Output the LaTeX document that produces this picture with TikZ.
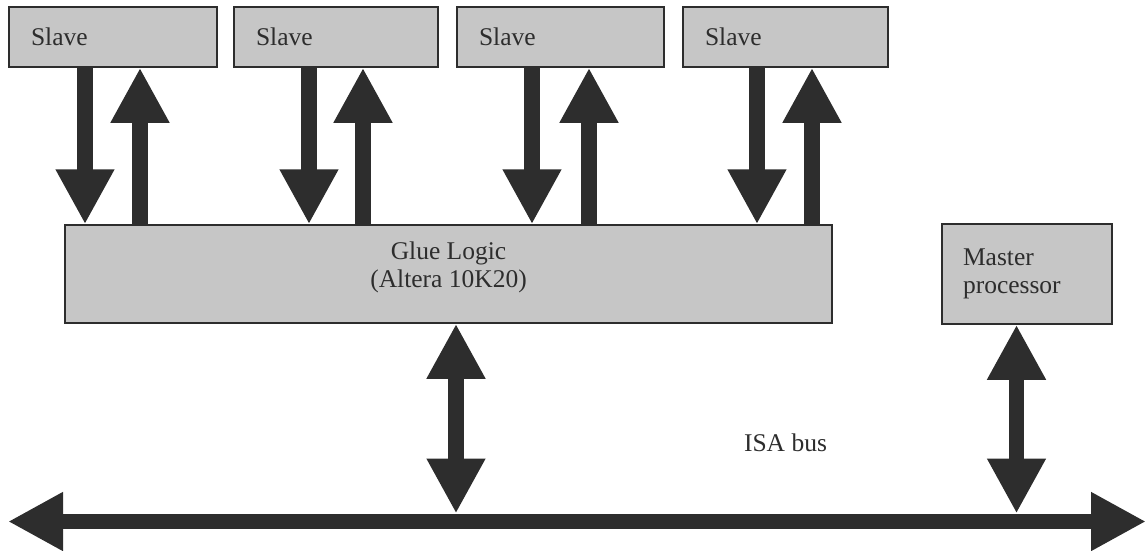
\documentclass[tikz,border=0pt]{standalone}
\usepackage{fontspec}
\setmainfont{Liberation Serif}
\usetikzlibrary{arrows.meta}
\definecolor{boxfill}{RGB}{198,198,198}
\definecolor{ink}{RGB}{45,45,45}
\begin{document}
\begin{tikzpicture}[x=1pt,y=-1pt,
  box/.style={draw=ink, line width=1.5pt, fill=boxfill, inner sep=0pt,
    font=\fontsize{25.5}{28}\selectfont, text=ink},
  slavebox/.style={box, minimum height=60pt, inner xsep=22pt, align=left, text width=#1},
  onearrow/.style={draw=ink, line width=15.5pt, -{Triangle[length=55pt,width=55pt]}},
  twoarrow/.style={draw=ink, line width=15.5pt, {Triangle[length=55pt,width=55pt]}-{Triangle[length=55pt,width=55pt]}},
  lbl/.style={font=\fontsize{25.5}{28}\selectfont, text=ink, inner sep=0pt}]
\useasboundingbox (0,0) rectangle (1146,550);

% boxes
\node[slavebox=164pt] (s1) at (113,37) {Slave};
\node[slavebox=160pt] (s2) at (336,37) {Slave};
\node[slavebox=163pt] (s3) at (560.5,37) {Slave};
\node[slavebox=161pt] (s4) at (785.5,37) {Slave};
\node[box, minimum width=767pt, minimum height=98pt, align=center, text depth=19pt] (g) at (448.5,274) {Glue Logic\\(Altera 10K20)};
\node[box, minimum height=100pt, inner xsep=21pt, text width=128pt, align=left] (m) at (1027,274) {Master\\processor};
\node[lbl] (isa) at (785.5,443) {ISA bus};

% arrow x positions
\coordinate (d1) at (85,0);
\coordinate (u1) at (140,0);
\coordinate (d2) at (309,0);
\coordinate (u2) at (363,0);
\coordinate (d3) at (532,0);
\coordinate (u3) at (589,0);
\coordinate (d4) at (757,0);
\coordinate (u4) at (812,0);

\coordinate (busL) at (8,521.5);
\coordinate (busR) at (1146,521.5);
\coordinate (gb) at (456,513.5);
\coordinate (mb) at (1016.5,513.5);

% slave <-> glue
\foreach \i in {1,2,3,4}{
  \draw[onearrow] (s\i.south -| d\i) -- (g.north -| d\i);
  \draw[onearrow] (g.north -| u\i) -- (s\i.south -| u\i);
}

% bus
\draw[twoarrow] (busL) -- (busR);
\draw[twoarrow] (g.south -| gb) -- (gb);
\draw[twoarrow] (m.south -| mb) -- (mb);
\end{tikzpicture}
\end{document}
